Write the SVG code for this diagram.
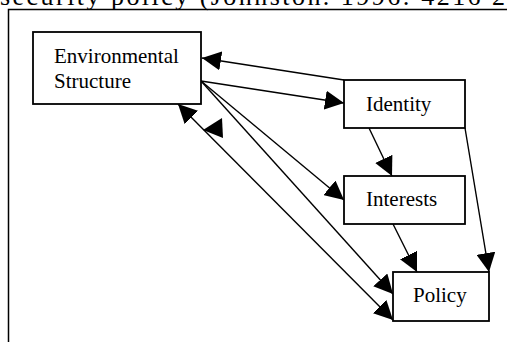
<svg xmlns="http://www.w3.org/2000/svg" width="507" height="342" viewBox="0 0 507 342">
<defs>
<style>
.box{fill:#fff;stroke:#000;stroke-width:1.8}
.lbl{font-family:"Liberation Serif","Times New Roman",serif;font-size:21px;fill:#000}
.con{stroke:#000;stroke-width:1.4;fill:none}
</style>
<marker id="ah" markerUnits="userSpaceOnUse" markerWidth="19" markerHeight="19" refX="19" refY="9.5" orient="auto-start-reverse" viewBox="0 0 19 19">
<path d="M0,0 L19,9.5 L0,19 z" fill="#000"/>
</marker>
</defs>
<rect width="507" height="342" fill="#fff"/>
<text class="lbl" x="0" y="5" font-size="26" textLength="505" lengthAdjust="spacing" style="font-size:26px">security policy (Johnston. 1996: 4216 2</text>
<path d="M8.5,342 V9.5 H507" fill="none" stroke="#000" stroke-width="1.5"/>
<g id="connectors">
<line class="con" x1="344" y1="80" x2="202" y2="58" marker-end="url(#ah)"/>
<line class="con" x1="201" y1="81" x2="344" y2="103" marker-end="url(#ah)"/>
<line class="con" x1="201" y1="81" x2="344" y2="200" marker-end="url(#ah)"/>
<line class="con" x1="201" y1="81" x2="393" y2="294" marker-end="url(#ah)"/>
<line class="con" x1="178" y1="104" x2="393" y2="320" marker-start="url(#ah)" marker-end="url(#ah)"/>
<line class="con" x1="369" y1="128" x2="392" y2="176" marker-end="url(#ah)"/>
<line class="con" x1="465" y1="128" x2="489" y2="272" marker-end="url(#ah)"/>
<line class="con" x1="393" y1="224" x2="417" y2="272" marker-end="url(#ah)"/>
<polygon points="203,130 222,118 223,138" fill="#000"/>
</g>
<g id="env">
<rect class="box" x="33" y="32" width="168" height="72"/>
<text class="lbl" x="54" y="63">Environmental</text>
<text class="lbl" x="54" y="88">Structure</text>
</g>
<g id="identity">
<rect class="box" x="344" y="80" width="121" height="48"/>
<text class="lbl" x="366" y="111">Identity</text>
</g>
<g id="interests">
<rect class="box" x="344" y="176" width="121" height="48"/>
<text class="lbl" x="366" y="206">Interests</text>
</g>
<g id="policy">
<rect class="box" x="393" y="272" width="96" height="49"/>
<text class="lbl" x="413" y="302">Policy</text>
</g>
</svg>
